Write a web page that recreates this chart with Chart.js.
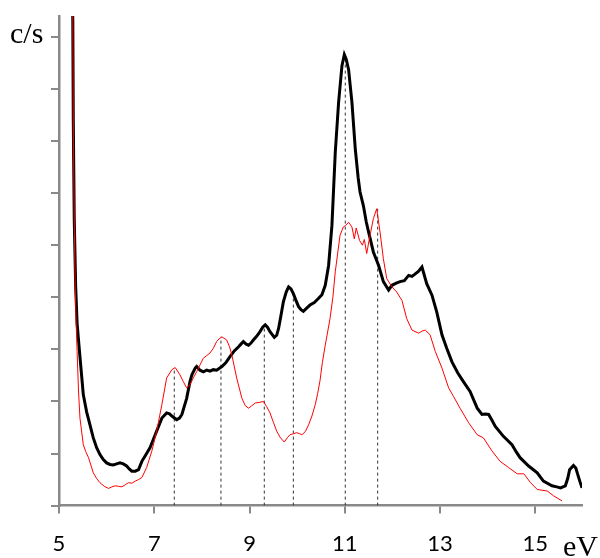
<!DOCTYPE html>
<html>
<head>
<meta charset="utf-8">
<script src="https://cdn.jsdelivr.net/npm/chart.js@4/dist/chart.umd.min.js"></script>
<style>
  body { margin: 0; background: #fff; }
  #wrap { position: relative; width: 600px; height: 558px; }
  .lbl { position: absolute; font-family: "Liberation Serif", "DejaVu Serif", serif; font-size: 30px; line-height: 30px; color: #000; }
</style>
</head>
<body>
<div id="wrap">
  <canvas id="myChart" width="600" height="558"></canvas>
  <div class="lbl" style="left:10px; top:18px;">c/s</div>
  <div class="lbl" style="left:563px; top:531px;">eV</div>
</div>
<script>
// x ticks (eV) and y ticks (arbitrary units, no labels)
const xTicks = [5, 7, 9, 11, 13, 15];
const yTicks = [0, 1, 2, 3, 4, 5, 6, 7, 8, 9];

// black spectrum
const blackX = [5.26, 5.29, 5.30, 5.32, 5.35, 5.38, 5.43, 5.51, 5.58, 5.65, 5.72, 5.79, 5.86, 5.93, 6.00, 6.07, 6.14, 6.21, 6.28, 6.35,
  6.42, 6.48, 6.53, 6.60, 6.67, 6.74, 6.82, 6.91, 6.98, 7.05, 7.16, 7.26, 7.32, 7.37, 7.47, 7.53, 7.58, 7.68, 7.75, 7.79,
  7.86, 7.89, 7.96, 8.03, 8.10, 8.17, 8.24, 8.31, 8.42, 8.50, 8.59, 8.68, 8.77, 8.82, 8.87, 8.93, 8.98, 9.03, 9.08, 9.15,
  9.22, 9.28, 9.33, 9.38, 9.43, 9.52, 9.57, 9.61, 9.66, 9.71, 9.77, 9.82, 9.87, 9.92, 9.97, 10.03, 10.08, 10.13, 10.20, 10.27,
  10.36, 10.45, 10.52, 10.59, 10.66, 10.73, 10.80, 10.87, 10.94, 10.99, 11.03, 11.08, 11.15, 11.22, 11.28, 11.32, 11.39, 11.45, 11.50, 11.60,
  11.71, 11.81, 11.92, 11.99, 12.08, 12.16, 12.25, 12.34, 12.41, 12.48, 12.55, 12.62, 12.72, 12.83, 12.93, 13.04, 13.14, 13.25, 13.37, 13.49,
  13.63, 13.78, 13.88, 13.95, 14.02, 14.09, 14.16, 14.33, 14.51, 14.60, 14.68, 14.86, 15.04, 15.17, 15.35, 15.45, 15.53, 15.63, 15.68, 15.72,
  15.80, 15.85, 15.89, 15.94, 15.98];
const blackY = [11, 9.3, 7.4, 5.5, 4.2, 3.5, 2.96, 2.13, 1.8, 1.55, 1.3, 1.11, 0.98, 0.885, 0.82, 0.79, 0.78, 0.80, 0.82, 0.80,
  0.76, 0.70, 0.66, 0.66, 0.69, 0.85, 0.97, 1.11, 1.27, 1.43, 1.68, 1.78, 1.76, 1.72, 1.65, 1.68, 1.75, 2.06, 2.38, 2.51,
  2.64, 2.67, 2.60, 2.57, 2.60, 2.58, 2.61, 2.60, 2.67, 2.74, 2.86, 2.97, 3.05, 3.10, 3.15, 3.10, 3.08, 3.12, 3.18, 3.25,
  3.34, 3.43, 3.47, 3.42, 3.34, 3.23, 3.27, 3.40, 3.65, 3.91, 4.10, 4.20, 4.16, 4.07, 3.95, 3.82, 3.76, 3.73, 3.79, 3.85,
  3.90, 3.98, 4.05, 4.23, 4.61, 5.38, 6.78, 7.74, 8.44, 8.66, 8.57, 8.37, 7.74, 6.85, 6.30, 6.02, 5.76, 5.45, 5.25, 4.87,
  4.61, 4.30, 4.14, 4.23, 4.27, 4.30, 4.32, 4.42, 4.40, 4.45, 4.50, 4.58, 4.26, 4.04, 3.72, 3.28, 3.02, 2.76, 2.55, 2.38,
  2.19, 1.87, 1.75, 1.76, 1.75, 1.64, 1.52, 1.33, 1.17, 1.03, 0.92, 0.76, 0.63, 0.47, 0.38, 0.36, 0.34, 0.38, 0.52, 0.69,
  0.77, 0.72, 0.60, 0.45, 0.34];

// red spectrum
const redX = [5.26, 5.29, 5.30, 5.32, 5.34, 5.36, 5.38, 5.41, 5.44, 5.51, 5.56, 5.62, 5.72, 5.79, 5.86, 5.95, 6.04, 6.11, 6.18, 6.25,
  6.32, 6.39, 6.46, 6.53, 6.60, 6.67, 6.74, 6.84, 6.95, 7.05, 7.16, 7.26, 7.37, 7.44, 7.54, 7.61, 7.68, 7.75, 7.82, 7.89,
  8.03, 8.10, 8.17, 8.24, 8.31, 8.36, 8.42, 8.52, 8.58, 8.63, 8.73, 8.84, 8.91, 8.98, 9.05, 9.12, 9.20, 9.29, 9.36, 9.43,
  9.50, 9.57, 9.65, 9.73, 9.79, 9.85, 9.92, 9.99, 10.05, 10.10, 10.17, 10.24, 10.31, 10.38, 10.43, 10.48, 10.53, 10.59, 10.69, 10.75,
  10.80, 10.90, 10.97, 11.02, 11.08, 11.15, 11.20, 11.24, 11.31, 11.37, 11.41, 11.46, 11.53, 11.60, 11.67, 11.74, 11.81, 11.88, 11.99, 12.09,
  12.20, 12.30, 12.41, 12.55, 12.62, 12.69, 12.79, 12.90, 13.04, 13.18, 13.28, 13.42, 13.60, 13.78, 13.91, 14.09, 14.26, 14.44, 14.62, 14.76,
  14.90, 15.04, 15.25, 15.38, 15.56];
const redY = [11, 9.3, 7.4, 5.5, 4.2, 3.5, 2.96, 2.2, 1.68, 1.17, 1.04, 0.92, 0.63, 0.52, 0.44, 0.37, 0.33, 0.36, 0.38, 0.37,
  0.36, 0.40, 0.44, 0.43, 0.47, 0.50, 0.54, 0.73, 1.05, 1.43, 1.94, 2.45, 2.61, 2.65, 2.51, 2.38, 2.26, 2.32, 2.45, 2.57,
  2.83, 2.88, 2.93, 3.02, 3.15, 3.20, 3.24, 3.18, 3.05, 2.89, 2.45, 2.06, 1.92, 1.87, 1.92, 1.97, 1.98, 2.00, 1.90, 1.78,
  1.60, 1.43, 1.30, 1.22, 1.30, 1.36, 1.38, 1.40, 1.38, 1.36, 1.42, 1.55, 1.72, 1.94, 2.15, 2.40, 2.75, 3.08, 3.59, 4.0,
  4.49, 5.19, 5.35, 5.38, 5.44, 5.35, 5.12, 5.33, 5.09, 5.00, 5.11, 4.84, 5.19, 5.51, 5.70, 5.25, 4.74, 4.36, 4.20, 4.10,
  3.94, 3.59, 3.37, 3.31, 3.35, 3.37, 3.28, 2.96, 2.64, 2.26, 2.10, 1.87, 1.59, 1.36, 1.30, 1.05, 0.85, 0.73, 0.61, 0.61,
  0.44, 0.31, 0.28, 0.19, 0.09];

// dotted drop lines: position and height
const dropX = [7.42, 8.40, 9.31, 9.92, 11.01, 11.69];
const dropTop = [2.65, 3.24, 3.47, 4.07, 8.66, 5.70];

const axisGray = '#898989';

function toPoints(xs, ys) {
    return xs.map((x, i) => ({x: x, y: ys[i]}));
}

const dropSets = dropX.map((x, i) => ({
    data: [{x: x, y: 0}, {x: x, y: dropTop[i]}],
    borderColor: '#333',
    borderWidth: 1,
    borderDash: [3, 3],
    pointRadius: 0,
    order: 3
}));

const ctx = document.getElementById('myChart').getContext('2d');
const myChart = new Chart(ctx, {
    type: 'line',
    data: {
        datasets: [{
            label: 'red',
            data: toPoints(redX, redY),
            borderColor: '#ff0000',
            borderWidth: 1,
            pointRadius: 0,
            tension: 0,
            order: 1
        }, {
            label: 'black',
            data: toPoints(blackX, blackY),
            borderColor: '#000000',
            borderWidth: 3,
            pointRadius: 0,
            tension: 0,
            order: 2
        }].concat(dropSets)
    },
    options: {
        responsive: false,
        animation: false,
        devicePixelRatio: 1,
        layout: { padding: { left: 51, top: 16, right: 18, bottom: -16 } },
        plugins: { legend: { display: false }, tooltip: { enabled: false } },
        scales: {
            x: {
                type: 'linear',
                min: 5,
                max: 15.98,
                afterBuildTicks: function(scale) {
                    scale.ticks = xTicks.map(v => ({value: v}));
                },
                border: { color: axisGray, width: 2.5 },
                grid: { drawOnChartArea: false, color: axisGray, lineWidth: 2, tickLength: 8 },
                ticks: {
                    color: '#000',
                    padding: 17,
                    maxRotation: 0,
                    font: { family: 'Lato, "Open Sans", sans-serif', size: 22 }
                }
            },
            y: {
                type: 'linear',
                min: 0,
                max: 9.4,
                afterBuildTicks: function(scale) {
                    scale.ticks = yTicks.map(v => ({value: v}));
                },
                border: { color: axisGray, width: 2.5 },
                grid: { drawOnChartArea: false, color: axisGray, lineWidth: 2, tickLength: 8 },
                ticks: { display: false }
            }
        }
    }
});
</script>
</body>
</html>
